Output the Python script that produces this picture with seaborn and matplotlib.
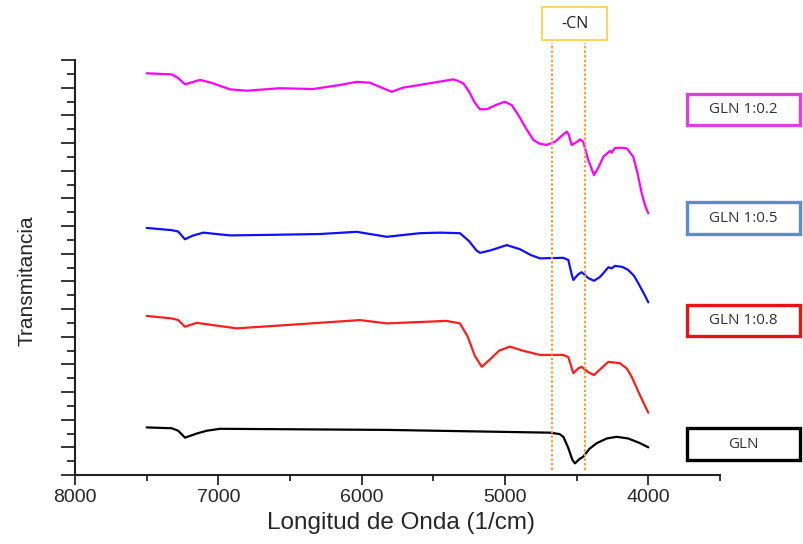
import numpy as np
import pandas as pd
import matplotlib
matplotlib.use("Agg")
import matplotlib.pyplot as plt
from matplotlib.patches import Rectangle
import seaborn as sns

# ---- data (wavenumber 1/cm, transmittance offset units) ----
wn_02 = [7500, 7325, 7280, 7233, 7180, 7128, 7050, 6919, 6802, 6570, 6340, 6150, 6035, 5942,
         5850, 5790, 5712, 5523, 5361, 5330, 5291, 5250, 5210, 5174, 5128, 5060, 5000, 4953,
         4900, 4850, 4802, 4760, 4709, 4650, 4600, 4569, 4555, 4535, 4510, 4477, 4454, 4420,
         4379, 4350, 4314, 4267, 4256, 4232, 4190, 4151, 4105, 4075, 4046, 4020, 4000]
t_02 = [14.52, 14.48, 14.35, 14.12, 14.20, 14.28, 14.18, 13.94, 13.89, 13.98, 13.95, 14.10, 14.21, 14.18,
        13.98, 13.85, 14.00, 14.16, 14.30, 14.25, 14.16, 13.85, 13.45, 13.22, 13.22, 13.38, 13.49, 13.37,
        12.95, 12.50, 12.11, 11.98, 11.93, 12.05, 12.28, 12.41, 12.30, 11.93, 12.00, 12.13, 12.05, 11.40,
        10.84, 11.10, 11.50, 11.72, 11.65, 11.82, 11.83, 11.81, 11.50, 10.90, 10.18, 9.70, 9.46]

wn_05 = [7500, 7325, 7280, 7233, 7180, 7105, 6919, 6640, 6291, 6035, 5825, 5593, 5453, 5314,
         5250, 5200, 5174, 5100, 4988, 4895, 4820, 4756, 4593, 4558, 4535, 4523, 4490, 4465,
         4420, 4379, 4340, 4314, 4279, 4256, 4232, 4180, 4140, 4100, 4070, 4030, 4000]
t_05 = [8.93, 8.85, 8.80, 8.52, 8.65, 8.76, 8.66, 8.68, 8.71, 8.79, 8.61, 8.74, 8.76, 8.74,
        8.45, 8.12, 8.03, 8.12, 8.31, 8.16, 7.95, 7.83, 7.85, 7.77, 7.25, 7.05, 7.25, 7.33,
        7.12, 7.02, 7.15, 7.29, 7.51, 7.47, 7.56, 7.52, 7.41, 7.20, 6.93, 6.55, 6.24]

wn_08 = [7500, 7325, 7280, 7233, 7151, 6872, 6523, 6012, 5825, 5407, 5314, 5260, 5210, 5162,
         5100, 5040, 4965, 4880, 4756, 4593, 4558, 4523, 4490, 4465, 4420, 4379, 4330, 4279,
         4198, 4150, 4116, 4060, 4000]
t_08 = [5.75, 5.66, 5.60, 5.36, 5.50, 5.30, 5.42, 5.60, 5.48, 5.57, 5.48, 5.00, 4.30, 3.91,
        4.20, 4.50, 4.64, 4.50, 4.34, 4.34, 4.26, 3.68, 3.85, 3.91, 3.72, 3.61, 3.85, 4.09,
        4.04, 3.85, 3.55, 2.90, 2.25]

wn_gln = [7500, 7325, 7280, 7233, 7150, 7081, 6988, 5825, 4686, 4620, 4593, 4560, 4530,
          4512, 4480, 4454, 4410, 4360, 4290, 4221, 4140, 4058, 4000]
t_gln = [1.72, 1.69, 1.60, 1.35, 1.50, 1.60, 1.67, 1.63, 1.53, 1.48, 1.38, 1.00, 0.55,
         0.42, 0.58, 0.66, 0.95, 1.15, 1.32, 1.38, 1.32, 1.15, 1.00]

samples = ["GLN 1:0.2", "GLN 1:0.5", "GLN 1:0.8", "GLN"]
line_colors = ["#FF00FF", "#1010FF", "#FF1E1E", "#000000"]
box_colors = ["#E040E0", "#5B8BD0", "#EE1111", "#000000"]
cn_lines = [4675, 4440]
cn_label = "-CN"
x_ticks = [8000, 7000, 6000, 5000, 4000]

df = pd.concat([
    pd.DataFrame({"wn": w, "T": t, "sample": s})
    for w, t, s in zip([wn_02, wn_05, wn_08, wn_gln], [t_02, t_05, t_08, t_gln], samples)
], ignore_index=True)

sns.set_style("ticks")
plt.rcParams["font.family"] = ["Liberation Sans", "DejaVu Sans"]

W, H = 804, 544
fig = plt.figure(figsize=(W / 100, H / 100), dpi=100)
ax = fig.add_axes([75 / W, 1 - 475 / H, 645 / W, 415 / H])

sns.lineplot(data=df, x="wn", y="T", hue="sample", palette=dict(zip(samples, line_colors)),
             estimator=None, sort=True, legend=False, linewidth=1.6, ax=ax)

ax.set_xlim(8000, 3500)
ax.set_ylim(0, 15)
ax.set_xticks(x_ticks)
ax.set_xticks(np.arange(7500, 3400, -1000), minor=True)
ax.set_yticks(np.arange(0, 15.1, 1))
ax.set_yticks(np.arange(0.5, 15, 1), minor=True)
ax.set_yticklabels([])
ax.tick_params(axis="x", which="major", length=7, width=1.3, labelsize=14, pad=3, direction="out")
ax.tick_params(axis="x", which="minor", length=4, width=1.3, direction="out")
ax.tick_params(axis="y", which="major", length=10, width=1.3, direction="out")
ax.tick_params(axis="y", which="minor", length=6, width=1.3, direction="out")
for s in ["top", "right"]:
    ax.spines[s].set_visible(False)
for s in ["left", "bottom"]:
    ax.spines[s].set_linewidth(1.5)
    ax.spines[s].set_color("#222222")

ax.set_xlabel("Longitud de Onda (1/cm)", fontsize=17.5)
ax.xaxis.label.set_va("center")
ax.xaxis.set_label_coords(0.505, -(523 - 475) / 415)
ax.set_ylabel("Transmitancia", fontsize=15)
ax.yaxis.label.set_va("center")
ax.yaxis.set_label_coords(-(75 - 27) / 645, 0.468)

# -CN dotted markers
trans = ax.get_xaxis_transform()
for xv in cn_lines:
    ax.plot([xv, xv], [(475 - 470) / 415, (475 - 43) / 415], transform=trans,
            color="#F4A045", linestyle=(0, (1.2, 1.0)), linewidth=1.5, clip_on=False)

# -CN box
fig.patches.append(Rectangle((542 / W, 1 - 40 / H), 65 / W, 33 / H, transform=fig.transFigure,
                             fill=False, edgecolor="#FFD65C", linewidth=1.5))
fig.text(574.5 / W, 1 - 24 / H, cn_label, ha="center", va="center", fontsize=11.5,
         family=["Open Sans", "DejaVu Sans"], color="#222222")

# sample label boxes
box_y = [(94, 125), (202, 234), (305, 336), (428, 460)]
for (y1, y2), lab, col in zip(box_y, samples, box_colors):
    fig.patches.append(Rectangle((687 / W, 1 - y2 / H), 113 / W, (y2 - y1) / H,
                                 transform=fig.transFigure, fill=False,
                                 edgecolor=col, linewidth=2.4))
    fig.text(743.5 / W, 1 - (y1 + y2) / 2 / H, lab, ha="center", va="center", fontsize=11,
             family=["Open Sans", "DejaVu Sans"], color="#333333")

fig.savefig("out.png", dpi=100)
